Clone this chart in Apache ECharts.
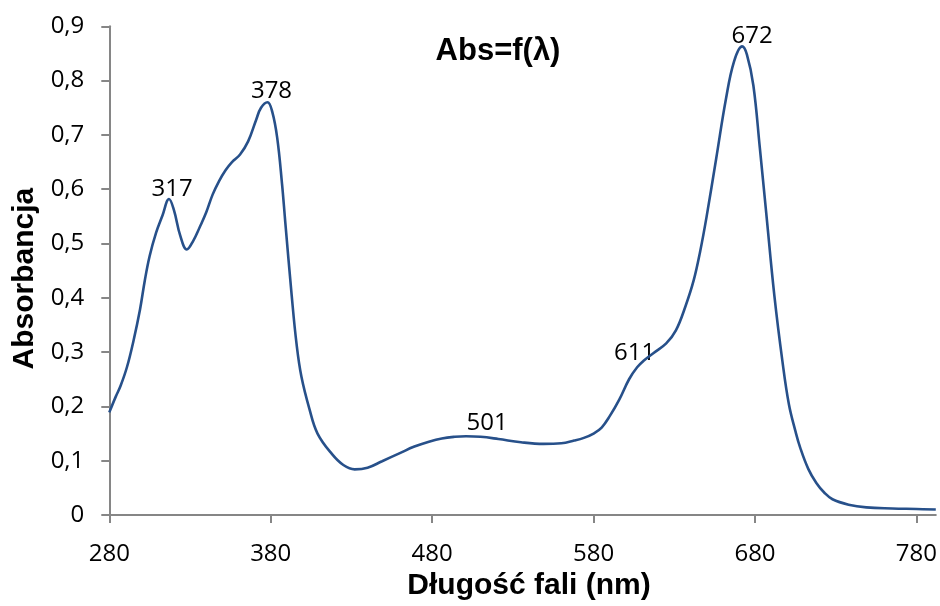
<!DOCTYPE html>
<html>
<head>
<meta charset="utf-8">
<style>
  html, body { margin: 0; padding: 0; background: #ffffff; }
  #chart { width: 940px; height: 606px; }
</style>
<script src="https://cdn.jsdelivr.net/npm/echarts@6/dist/echarts.min.js"></script>
</head>
<body>
<div id="chart"></div>
<script>
// Absorption spectrum: wavelength (nm) and absorbance
const wavelengths = [
  280, 284, 287, 291, 295, 299, 302, 305, 309, 313, 317, 320, 324, 328, 332, 336, 340, 344, 348,
  352, 356, 361, 366, 371, 374, 378, 381, 384, 387, 389, 393, 396, 399, 404, 409, 418, 425, 432,
  440, 449, 460, 469, 478, 486, 494, 501, 510, 521, 535, 549, 560, 568, 574, 580, 585, 590, 596,
  602, 607, 611, 617, 625, 631, 637, 642, 646, 650, 656, 662, 667, 672, 675, 679, 683, 687, 692,
  697, 701, 705, 708, 713, 718, 723, 728, 738, 749, 765, 780, 792
];
const absorbance = [
  0.189, 0.218, 0.238, 0.273, 0.321, 0.378, 0.432, 0.477, 0.520, 0.552, 0.582, 0.562, 0.514, 0.489, 0.505, 0.530, 0.557, 0.590, 0.615,
  0.635, 0.650, 0.664, 0.688, 0.728, 0.750, 0.760, 0.742, 0.695, 0.610, 0.540, 0.404, 0.315, 0.255, 0.195, 0.150, 0.112, 0.092, 0.084,
  0.087, 0.099, 0.114, 0.126, 0.135, 0.141, 0.144, 0.145, 0.144, 0.140, 0.134, 0.131, 0.132, 0.137, 0.142, 0.150, 0.161, 0.182, 0.213,
  0.250, 0.272, 0.284, 0.298, 0.316, 0.340, 0.385, 0.432, 0.485, 0.549, 0.657, 0.766, 0.835, 0.863, 0.848, 0.791, 0.676, 0.555, 0.404,
  0.283, 0.204, 0.155, 0.124, 0.085, 0.059, 0.041, 0.029, 0.019, 0.014, 0.012, 0.011, 0.010
];
// Annotated band maxima (nm)
const peakWavelengths = [317, 378, 501, 611, 672];

const xTicks = [280, 380, 480, 580, 680, 780];
const yTicks = [0, 0.1, 0.2, 0.3, 0.4, 0.5, 0.6, 0.7, 0.8, 0.9];

const chartTitle = 'Abs=f(λ)';
const xTitle = 'Długość fali (nm)';
const yTitle = 'Absorbancja';

// Shift of each band label from the default spot above its point
const peakLabelOffset = {
  317: [3, 3],
  378: [4, 1],
  501: [21, -1],
  611: [-9, 5],
  672: [10, 2]
};

const lineColor = '#27508a';
const axisColor = '#868686';

const spectrum = wavelengths.map((w, i) => [w, absorbance[i]]);

// Band labels sit on the spectrum's own points
const peakPoints = peakWavelengths.map(w => ({
  value: [w, absorbance[wavelengths.indexOf(w)]],
  label: { offset: peakLabelOffset[w] }
}));

const chart = echarts.init(document.getElementById('chart'), null, { renderer: 'canvas' });
chart.setOption({
  backgroundColor: '#ffffff',
  animation: false,
  title: {
    text: chartTitle,
    left: 493,
    top: 31,
    textAlign: 'center',
    textStyle: { fontFamily: 'Liberation Sans', fontWeight: 'bold', fontSize: 31, color: '#000000' }
  },
  grid: { left: 109.3, right: 0, top: 26.3, bottom: 83.3, containLabel: false },
  xAxis: {
    type: 'value',
    min: 280,
    max: 792,
    interval: 100,
    name: xTitle,
    nameLocation: 'middle',
    nameGap: 56,
    nameTextStyle: {
      fontFamily: 'Liberation Sans', fontWeight: 'bold', fontSize: 30, color: '#000000',
      padding: [0, 0, 0, 13]
    },
    axisLine: { show: true, onZero: false, lineStyle: { color: axisColor, width: 2 } },
    axisTick: { show: true, inside: false, length: 8, customValues: xTicks, lineStyle: { color: axisColor, width: 2 } },
    axisLabel: {
      customValues: xTicks,
      margin: 27,
      fontFamily: 'Open Sans',
      fontSize: 24,
      color: '#000000'
    },
    splitLine: { show: false }
  },
  yAxis: {
    type: 'value',
    min: 0,
    max: 0.9,
    interval: 0.1,
    name: yTitle,
    nameLocation: 'middle',
    nameGap: 70,
    nameRotate: 90,
    nameTextStyle: {
      fontFamily: 'Liberation Sans', fontWeight: 'bold', fontSize: 30, color: '#000000',
      padding: [0, 16, 0, 0]
    },
    axisLine: { show: true, lineStyle: { color: axisColor, width: 2 } },
    axisTick: { show: true, inside: false, length: 8, lineStyle: { color: axisColor, width: 2 } },
    axisLabel: {
      margin: 25,
      fontFamily: 'Open Sans',
      fontSize: 24,
      color: '#000000',
      formatter: v => {
        const t = yTicks.find(y => Math.abs(y - v) < 1e-9);
        const val = t === undefined ? v : t;
        return val === 0 ? '0' : val.toFixed(1).replace('.', ',');
      }
    },
    splitLine: { show: false }
  },
  series: [
    {
      type: 'line',
      data: spectrum,
      smooth: 0.4,
      showSymbol: false,
      symbol: 'none',
      clip: false,
      lineStyle: { color: lineColor, width: 2.6 },
      emphasis: { disabled: true }
    },
    {
      type: 'scatter',
      data: peakPoints,
      symbolSize: 1,
      itemStyle: { color: 'rgba(0,0,0,0)', opacity: 1 },
      clip: false,
      silent: true,
      label: {
        show: true,
        position: 'top',
        distance: 0,
        formatter: p => String(p.value[0]),
        color: '#000000',
        opacity: 1,
        fontFamily: 'Open Sans',
        fontSize: 24
      },
      emphasis: { disabled: true }
    }
  ]
});
</script>
</body>
</html>
